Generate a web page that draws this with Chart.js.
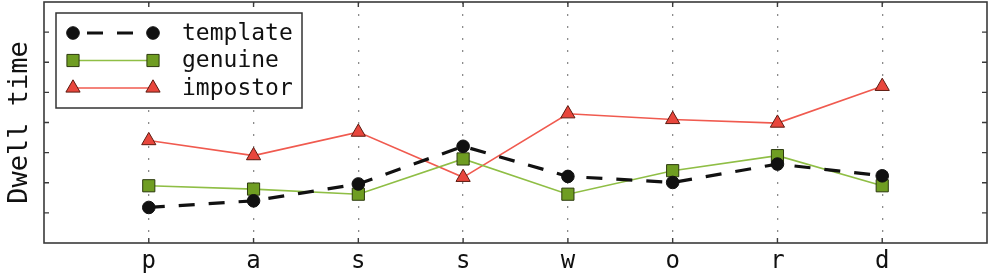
<!DOCTYPE html>
<html>
<head>
<meta charset="utf-8">
<script src="https://cdn.jsdelivr.net/npm/chart.js@4/dist/chart.umd.min.js"></script>
<style>
html,body{margin:0;padding:0;background:#fff;}
canvas{display:block;}
</style>
</head>
<body>
<canvas id="c" width="1003" height="274"></canvas>
<script>
const categories = ['p', 'a', 's', 's', 'w', 'o', 'r', 'd'];
const templateValues = [1.18, 1.40, 1.96, 3.21, 2.21, 2.01, 2.62, 2.23];
const genuineValues  = [1.90, 1.79, 1.62, 2.79, 1.62, 2.40, 2.90, 1.90];
const impostorValues = [3.40, 2.90, 3.68, 2.18, 4.29, 4.10, 3.98, 5.20];
const seriesNames = ['template', 'genuine', 'impostor'];
const yTicks = [0, 1, 2, 3, 4, 5, 6, 7, 8];

const MONO = '"DejaVu Sans Mono", "Liberation Mono", monospace';
const toXY = arr => arr.map((v, i) => ({x: i, y: v}));

function drawMarker(ctx, style, r, x, y) {
  if (style === 'circle') {
    ctx.arc(x, y, r, 0, Math.PI * 2);
  } else if (style === 'rect') {
    const s = Math.SQRT1_2 * r;
    ctx.rect(x - s, y - s, 2 * s, 2 * s);
  } else if (style === 'triangle') {
    ctx.moveTo(x, y - r);
    ctx.lineTo(x + r * Math.sin(Math.PI / 3), y + r / 2);
    ctx.lineTo(x - r * Math.sin(Math.PI / 3), y + r / 2);
    ctx.closePath();
  }
}

const framePlugin = {
  id: 'frame',
  afterDraw(chart) {
    const {ctx, chartArea: a, scales} = chart;
    ctx.save();
    ctx.strokeStyle = '#3a3a3a';
    ctx.lineWidth = 1.6;
    ctx.setLineDash([]);
    ctx.strokeRect(a.left, a.top, a.right - a.left, a.bottom - a.top);
    const tl = 5;
    ctx.lineWidth = 1.4;
    ctx.beginPath();
    categories.forEach((c, i) => {
      const x = scales.x.getPixelForValue(i);
      ctx.moveTo(x, a.bottom); ctx.lineTo(x, a.bottom - tl);
      ctx.moveTo(x, a.top); ctx.lineTo(x, a.top + tl);
    });
    yTicks.slice(1, -1).forEach(v => {
      const y = scales.y.getPixelForValue(v);
      ctx.moveTo(a.left, y); ctx.lineTo(a.left + tl, y);
      ctx.moveTo(a.right, y); ctx.lineTo(a.right - tl, y);
    });
    ctx.stroke();

    // legend
    const bx = a.left + 12, by = a.top + 11, bw = 246, bh = 95;
    ctx.fillStyle = '#fff';
    ctx.fillRect(bx, by, bw, bh);
    ctx.strokeStyle = '#333';
    ctx.lineWidth = 1.5;
    ctx.strokeRect(bx, by, bw, bh);
    ctx.font = '23px ' + MONO;
    ctx.textBaseline = 'middle';
    ctx.textAlign = 'left';
    chart.data.datasets.forEach((ds, i) => {
      const ry = by + 20 + i * 27.5;
      const x1 = bx + 17, x2 = bx + 97;
      ctx.save();
      ctx.strokeStyle = ds.borderColor;
      ctx.lineWidth = ds.borderWidth;
      ctx.setLineDash(ds.borderDash || []);
      ctx.lineDashOffset = ds.legendDashOffset || 0;
      ctx.beginPath();
      ctx.moveTo(x1, ry); ctx.lineTo(x2, ry);
      ctx.stroke();
      ctx.restore();
      [x1, x2].forEach(px => {
        ctx.save();
        ctx.fillStyle = ds.pointBackgroundColor;
        ctx.strokeStyle = ds.pointBorderColor;
        ctx.lineWidth = ds.pointBorderWidth;
        ctx.setLineDash([]);
        ctx.beginPath();
        drawMarker(ctx, ds.pointStyle, ds.pointRadius, px, ry);
        ctx.fill();
        ctx.stroke();
        ctx.restore();
      });
      ctx.fillStyle = '#111';
      ctx.fillText(ds.label, bx + 126, ry + 1);
    });
    ctx.restore();
  }
};

new Chart(document.getElementById('c'), {
  type: 'line',
  data: {
    datasets: [
      {
        label: seriesNames[0],
        data: toXY(templateValues),
        borderColor: '#111111',
        borderWidth: 3.2,
        borderDash: [16, 14],
        legendDashOffset: -14,
        pointStyle: 'circle',
        pointRadius: 6.3,
        pointBackgroundColor: '#111111',
        pointBorderColor: '#111111',
        pointBorderWidth: 1
      },
      {
        label: seriesNames[1],
        data: toXY(genuineValues),
        borderColor: '#8fbe45',
        borderWidth: 1.6,
        pointStyle: 'rect',
        pointRadius: 8.6,
        pointBackgroundColor: '#6f9d22',
        pointBorderColor: '#2c3a0e',
        pointBorderWidth: 1
      },
      {
        label: seriesNames[2],
        data: toXY(impostorValues),
        borderColor: '#f05a4f',
        borderWidth: 1.6,
        pointStyle: 'triangle',
        pointRadius: 8.2,
        pointBackgroundColor: '#e8463c',
        pointBorderColor: '#5c1a10',
        pointBorderWidth: 1
      }
    ]
  },
  options: {
    responsive: false,
    animation: false,
    layout: {autoPadding: false, padding: {top: 2, right: 16, left: 0, bottom: 0}},
    plugins: {legend: {display: false}, tooltip: {enabled: false}},
    elements: {line: {tension: 0}},
    scales: {
      x: {
        type: 'linear',
        min: -1,
        max: 8,
        afterBuildTicks(scale) {
          scale.ticks = [-1].concat(categories.map((c, i) => i), [8]).map(v => ({value: v}));
        },
        afterFit(scale) { scale.height = 31; },
        ticks: {
          autoSkip: false,
          maxRotation: 0,
          padding: 4,
          color: '#111',
          font: {family: MONO, size: 24},
          callback: v => (v >= 0 && v < categories.length) ? categories[v] : ''
        },
        grid: {
          drawTicks: false,
          lineWidth: 1.3,
          color: c => (c.tick && c.tick.value >= 0 && c.tick.value < categories.length) ? '#8c8c8c' : 'rgba(0,0,0,0)'
        },
        border: {display: false, dash: [2, 10]}
      },
      y: {
        type: 'linear',
        min: yTicks[0],
        max: yTicks[yTicks.length - 1],
        afterBuildTicks(scale) { scale.ticks = yTicks.map(v => ({value: v})); },
        afterFit(scale) { scale.width = 44; },
        ticks: {display: false},
        grid: {display: false},
        border: {display: false},
        title: {
          display: true,
          text: 'Dwell time',
          color: '#111',
          font: {family: MONO, size: 27},
          padding: {top: 4, bottom: 0}
        }
      }
    }
  },
  plugins: [framePlugin]
});
</script>
</body>
</html>
